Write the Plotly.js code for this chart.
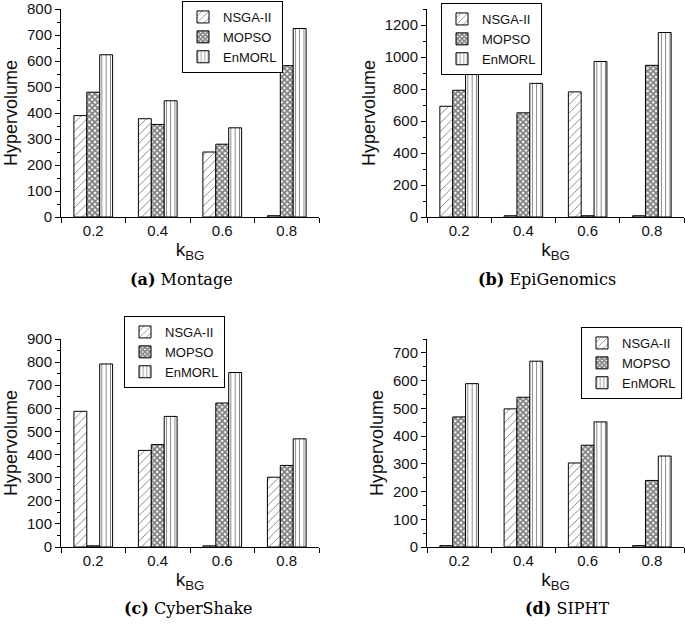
<!DOCTYPE html>
<html><head><meta charset="utf-8">
<script src="https://cdn.plot.ly/plotly-3.0.1.min.js"></script>
<style>body{margin:0;background:#fff}#chart{width:685px;height:627px}</style>
</head><body><div id="chart"></div>
<script>
const categories = ['0.2','0.4','0.6','0.8'];
const seriesNames = ['NSGA-II','MOPSO','EnMORL'];
const montageNSGA = [390, 378, 250, 5];
const montageMOPSO = [480, 356, 280, 582];
const montageEnMORL = [624, 447, 343, 725];
const epiNSGA = [692, 8, 782, 8];
const epiMOPSO = [792, 651, 8, 948];
const epiEnMORL = [922, 835, 972, 1153];
const cyberNSGA = [587, 418, 5, 302];
const cyberMOPSO = [5, 443, 623, 353];
const cyberEnMORL = [792, 565, 755, 468];
const siphtNSGA = [5, 498, 303, 5];
const siphtMOPSO = [469, 540, 367, 240];
const siphtEnMORL = [589, 670, 451, 328];
const captions = ['<b>(a)</b> Montage','<b>(b)</b> EpiGenomics','<b>(c)</b> CyberShake','<b>(d)</b> SIPHT'];

const patterns = [
  {shape:'/', size:6, solidity:0.15, fgcolor:'#000', bgcolor:'#fff', fillmode:'overlay'},
  {shape:'x', size:4, solidity:0.7, fgcolor:'#000', bgcolor:'#fff', fillmode:'overlay'},
  {shape:'|', size:4.3, solidity:0.22, fgcolor:'#000', bgcolor:'#fff', fillmode:'overlay'}
];
const panels = [
  [montageNSGA, montageMOPSO, montageEnMORL],
  [epiNSGA, epiMOPSO, epiEnMORL],
  [cyberNSGA, cyberMOPSO, cyberEnMORL],
  [siphtNSGA, siphtMOPSO, siphtEnMORL]
];
const traces = [];
panels.forEach((p, i) => {
  p.forEach((vals, j) => {
    traces.push({
      type:'bar', x:categories, y:vals, name:seriesNames[j],
      xaxis: i===0?'x':'x'+(i+1), yaxis: i===0?'y':'y'+(i+1),
      legend: i===0?'legend':'legend'+(i+1),
      marker:{color:'#fff', pattern:patterns[j], line:{color:'#000', width:1}},
      hoverinfo:'skip'
    });
  });
});
const W=685,H=627;
const font = {family:'Arial, Liberation Sans, sans-serif', size:15, color:'#111'};
function xax(l,r,anc){return {domain:[l/W,r/W], anchor:anc, type:'category', showline:true, linecolor:'#000', linewidth:1,
  ticks:'outside', tickson:'boundaries', ticklen:5, tickcolor:'#000', tickfont:{size:15},
  title:{text:'k<sub>BG</sub>', font:{size:19}, standoff:4}, fixedrange:true};}
function yax(t,b,range,dtick,anc){return {domain:[(H-b)/H,(H-t)/H], anchor:anc, range:range, showline:true, linecolor:'#000', linewidth:1,
  ticks:'outside', ticklen:5, tickcolor:'#000', dtick:dtick, showgrid:false, zeroline:false, tickfont:{size:15},
  minor:{ticks:'outside', ticklen:3, dtick:dtick/2, tickcolor:'#000', showgrid:false},
  title:{text:'Hypervolume', font:{size:18}, standoff:4}, fixedrange:true};}
function leg(x,y){return {x:x/W, y:(H-y)/H, xanchor:'left', yanchor:'top', bordercolor:'#000', borderwidth:1,
  bgcolor:'#fff', font:{size:13}, tracegroupgap:0, itemwidth:30};}
const layout = {
  width:W, height:H, margin:{l:0,r:0,t:0,b:0}, paper_bgcolor:'#fff', plot_bgcolor:'#fff',
  font:font, barmode:'group', bargap:0.4, bargroupgap:0,
  xaxis:xax(61,319,'y'), yaxis:yax(9,217,[0,800],100,'x'),
  xaxis2:xax(427,684,'y2'), yaxis2:yax(9,217,[0,1300],200,'x2'),
  xaxis3:xax(61,319,'y3'), yaxis3:yax(339,547,[0,900],100,'x3'),
  xaxis4:xax(427,684,'y4'), yaxis4:yax(339,547,[0,750],100,'x4'),
  legend:leg(182,1), legend2:leg(441,3), legend3:leg(124,316), legend4:leg(581,327),
  annotations:[
    {text:captions[0], x:181/W, y:(H-279)/H},
    {text:captions[1], x:547/W, y:(H-279)/H},
    {text:captions[2], x:188/W, y:(H-608)/H},
    {text:captions[3], x:567/W, y:(H-608)/H}
  ].map(a=>Object.assign(a,{xref:'paper', yref:'paper', showarrow:false, xanchor:'center', yanchor:'middle',
    font:{family:'DejaVu Serif, serif', size:16, color:'#000'}}))
};
Plotly.newPlot('chart', traces, layout, {displayModeBar:false, staticPlot:true});
</script></body></html>
